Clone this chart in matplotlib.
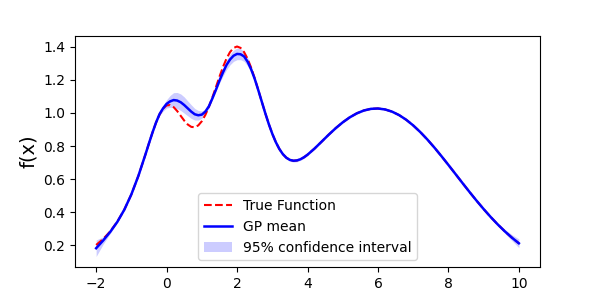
import numpy as np
import matplotlib
matplotlib.use("Agg")
import matplotlib.pyplot as plt

x_vals = [-2.0, -1.8, -1.6, -1.4, -1.2, -1.0, -0.8, -0.6,
          -0.5, -0.4, -0.3, -0.2, -0.1, 0.0, 0.1, 0.2, 0.3, 0.4, 0.5, 0.6,
          0.7, 0.8, 0.9, 1.0, 1.1, 1.2, 1.3, 1.4, 1.5, 1.6,
          1.7, 1.8, 1.9, 2.0, 2.1, 2.2, 2.3, 2.4, 2.5, 2.6,
          2.7, 2.8, 2.9, 3.0, 3.1, 3.2, 3.3, 3.4, 3.5, 3.6,
          3.7, 3.8, 3.9, 4.0,
          4.2, 4.4, 4.6, 4.8, 5.0, 5.2, 5.4, 5.6, 5.8,
          6.0, 6.2, 6.4, 6.6, 6.8, 7.0, 7.2, 7.4, 7.6, 7.8,
          8.0, 8.2, 8.4, 8.6, 8.8, 9.0, 9.2, 9.4, 9.6, 9.8, 10.0]

true_vals = [0.2017, 0.2381, 0.2840, 0.3420, 0.4154, 0.5076, 0.6200, 0.7493,
             0.8166, 0.8819, 0.9414, 0.9908, 1.0265, 1.0456, 1.0479, 1.0353, 1.0118, 0.9828, 0.9540, 0.9303,
             0.9159, 0.9137, 0.9249, 0.9500, 0.9880, 1.0370, 1.0942, 1.1560, 1.2185, 1.2773,
             1.3284, 1.3680, 1.3931, 1.4019, 1.3934, 1.3680, 1.3273, 1.2737, 1.2105, 1.1413,
             1.0698, 0.9996, 0.9336, 0.8745, 0.8237, 0.7825, 0.7510, 0.7291, 0.7161, 0.7111,
             0.7129, 0.7202, 0.7321, 0.7475,
             0.7848, 0.8264, 0.8683, 0.9079, 0.9434, 0.9737, 0.9978, 1.0150, 1.0249,
             1.0270, 1.0214, 1.0080, 0.9871, 0.9592, 0.9248, 0.8848, 0.8400, 0.7912, 0.7394,
             0.6857, 0.6310, 0.5761, 0.5220, 0.4693, 0.4188, 0.3708, 0.3259, 0.2844, 0.2463, 0.2118]

gp_mean = [0.182, 0.229, 0.281, 0.341, 0.415, 0.5076, 0.6200, 0.7493,
           0.8166, 0.8819, 0.942, 0.993, 1.028, 1.055, 1.070, 1.078, 1.075, 1.065, 1.048, 1.028,
           1.008, 0.992, 0.986, 0.990, 1.008, 1.040, 1.088, 1.140, 1.195, 1.245,
           1.290, 1.323, 1.346, 1.357, 1.355, 1.342, 1.310, 1.264, 1.207, 1.140,
           1.0698, 0.9996, 0.9336, 0.8745, 0.8237, 0.7825, 0.7510, 0.7291, 0.7161, 0.7111,
           0.7129, 0.7202, 0.7321, 0.7475,
           0.7848, 0.8264, 0.8683, 0.9079, 0.9434, 0.9737, 0.9978, 1.0150, 1.0249,
           1.0270, 1.0214, 1.0080, 0.9871, 0.9592, 0.9248, 0.8848, 0.8400, 0.7912, 0.7394,
           0.6857, 0.6310, 0.5761, 0.5220, 0.4693, 0.4188, 0.3708, 0.3259, 0.2844, 0.2463, 0.2118]

ci_half = [0.050, 0.022, 0.010, 0.005, 0.003, 0.003, 0.004, 0.004,
           0.005, 0.005, 0.007, 0.010, 0.017, 0.025, 0.036, 0.045, 0.049, 0.050, 0.049, 0.045,
           0.041, 0.035, 0.029, 0.022, 0.015, 0.010, 0.007, 0.008, 0.015, 0.022,
           0.028, 0.032, 0.034, 0.035, 0.033, 0.030, 0.026, 0.020, 0.013, 0.008,
           0.006, 0.005, 0.005, 0.005, 0.005, 0.006, 0.006, 0.007, 0.008, 0.008,
           0.008, 0.007, 0.007, 0.006,
           0.005, 0.005, 0.005, 0.005, 0.005, 0.005, 0.005, 0.005, 0.005,
           0.005, 0.005, 0.005, 0.005, 0.005, 0.005, 0.005, 0.005, 0.005, 0.005,
           0.005, 0.005, 0.005, 0.005, 0.006, 0.006, 0.007, 0.008, 0.012, 0.018, 0.026]

x = np.array(x_vals)
mean = np.array(gp_mean)
half = np.array(ci_half)

fig, ax = plt.subplots(figsize=(6, 3), dpi=100)
ax.plot(x, true_vals, 'r--', lw=1.5, label='True Function')
ax.plot(x, mean, 'b-', lw=1.8, label='GP mean')
ax.fill_between(x, mean - half, mean + half, color='blue', alpha=0.2, lw=0,
                label='95% confidence interval')
ax.set_ylabel('f(x)', fontsize=14)
ax.legend(loc='lower center')
fig.savefig('out.png', dpi=100)
